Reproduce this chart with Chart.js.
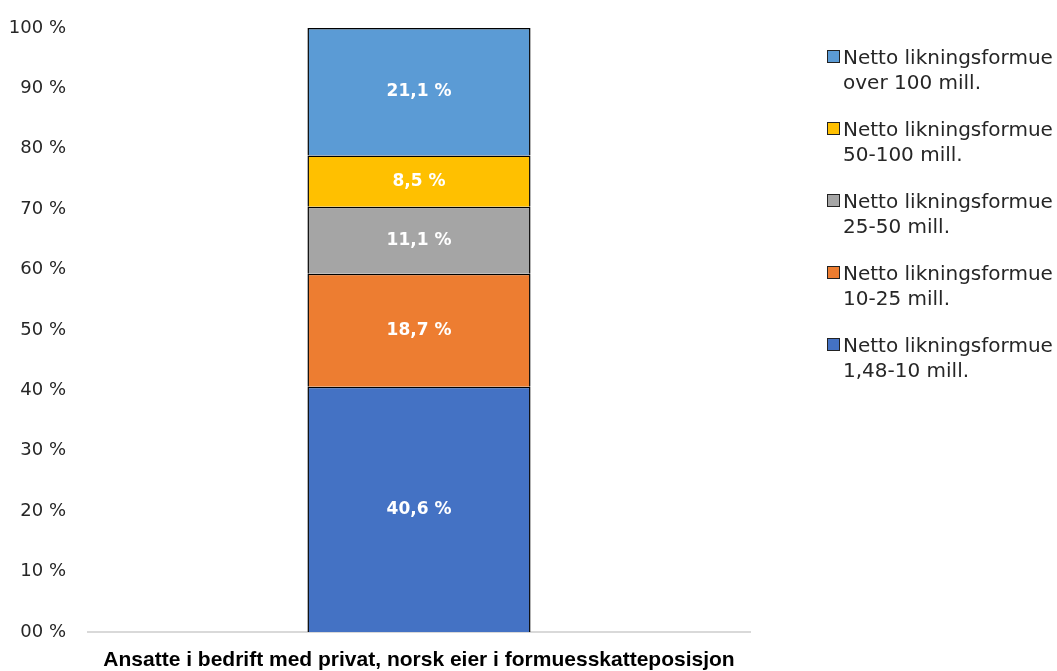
<!DOCTYPE html>
<html>
<head>
  <meta charset="UTF-8">
  <title>Ansatte etter eiers formue</title>
  <script src="https://cdn.jsdelivr.net/npm/chart.js"></script>
  <style>
    body { margin: 0; background: #fff; font-family: "DejaVu Sans", sans-serif; }
    #wrap { position: relative; width: 1057px; height: 671px; }
    #legend { position: absolute; left: 827px; top: 45px; }
    .item { display: flex; align-items: flex-start; height: 72px; }
    .box { width: 11px; height: 11px; border: 1px solid #222; margin-top: 5px; margin-right: 3px; flex: none; }
    .txt { font-size: 20px; line-height: 25px; color: #262626; white-space: nowrap; }
  </style>
</head>
<body>
  <div id="wrap">
    <canvas id="chart" width="1057" height="671"></canvas>
    <div id="legend"></div>
  </div>
  <script>
    const categories = ["Ansatte i bedrift med privat, norsk eier i formuesskatteposisjon"];
    const seriesNames = [
      ["Netto likningsformue", "1,48-10 mill."],
      ["Netto likningsformue", "10-25 mill."],
      ["Netto likningsformue", "25-50 mill."],
      ["Netto likningsformue", "50-100 mill."],
      ["Netto likningsformue", "over 100 mill."]
    ];
    const seriesValues = [40.6, 18.7, 11.1, 8.5, 21.1];
    const seriesColors = ["#4472C4", "#ED7D31", "#A5A5A5", "#FFC000", "#5B9BD5"];

    const fmt = v => v.toFixed(1).replace(".", ",") + " %";

    // white value labels in the middle of each segment
    const valueLabels = {
      id: "valueLabels",
      afterDatasetsDraw(chart) {
        const ctx = chart.ctx;
        ctx.save();
        ctx.fillStyle = "#fff";
        ctx.font = "bold 17px 'DejaVu Sans', sans-serif";
        ctx.textAlign = "center";
        ctx.textBaseline = "middle";
        chart.data.datasets.forEach((ds, i) => {
          chart.getDatasetMeta(i).data.forEach((bar, j) => {
            const mid = (bar.y + bar.base) / 2;
            ctx.fillText(fmt(ds.data[j]), bar.x, mid);
          });
        });
        ctx.restore();
      }
    };

    new Chart(document.getElementById("chart"), {
      type: "bar",
      data: {
        labels: categories,
        datasets: seriesValues.map((v, i) => ({
          label: seriesNames[i].join(" "),
          data: [v],
          backgroundColor: seriesColors[i],
          borderColor: "#000",
          borderWidth: 1.5,
          barPercentage: 0.674,
          categoryPercentage: 0.5
        }))
      },
      options: {
        responsive: false,
        animation: false,
        layout: { padding: { left: 9, right: 307, top: 28, bottom: 0 } },
        plugins: { legend: { display: false }, tooltip: { enabled: false } },
        scales: {
          x: {
            stacked: true,
            grid: { display: false },
            border: { color: "#d9d9d9", width: 2 },
            ticks: { display: false },
            // the single category name sits under the axis
            title: {
              display: true,
              text: categories[0],
              color: "#000",
              padding: { top: 10, bottom: 0 },
              font: { family: "'Liberation Sans', Arial, sans-serif", size: 21, weight: "bold", lineHeight: 1 }
            }
          },
          y: {
            stacked: true,
            min: 0, max: 100,
            grid: { display: false },
            border: { display: false },
            afterFit: s => { s.width = 79; s.paddingTop = 0; s.paddingBottom = 0; },
            ticks: {
              stepSize: 10,
              padding: 14,
              color: "#262626",
              font: { family: "'DejaVu Sans', sans-serif", size: 18 },
              callback: v => (v === 0 ? "00" : v) + " %"
            }
          }
        }
      },
      plugins: [valueLabels]
    });

    // legend in reverse order, as in the reference
    const legend = document.getElementById("legend");
    for (let i = seriesNames.length - 1; i >= 0; i--) {
      const item = document.createElement("div");
      item.className = "item";
      item.innerHTML = '<div class="box" style="background:' + seriesColors[i] + '"></div>' +
        '<div class="txt">' + seriesNames[i][0] + '<br>' + seriesNames[i][1] + '</div>';
      legend.appendChild(item);
    }
  </script>
</body>
</html>
